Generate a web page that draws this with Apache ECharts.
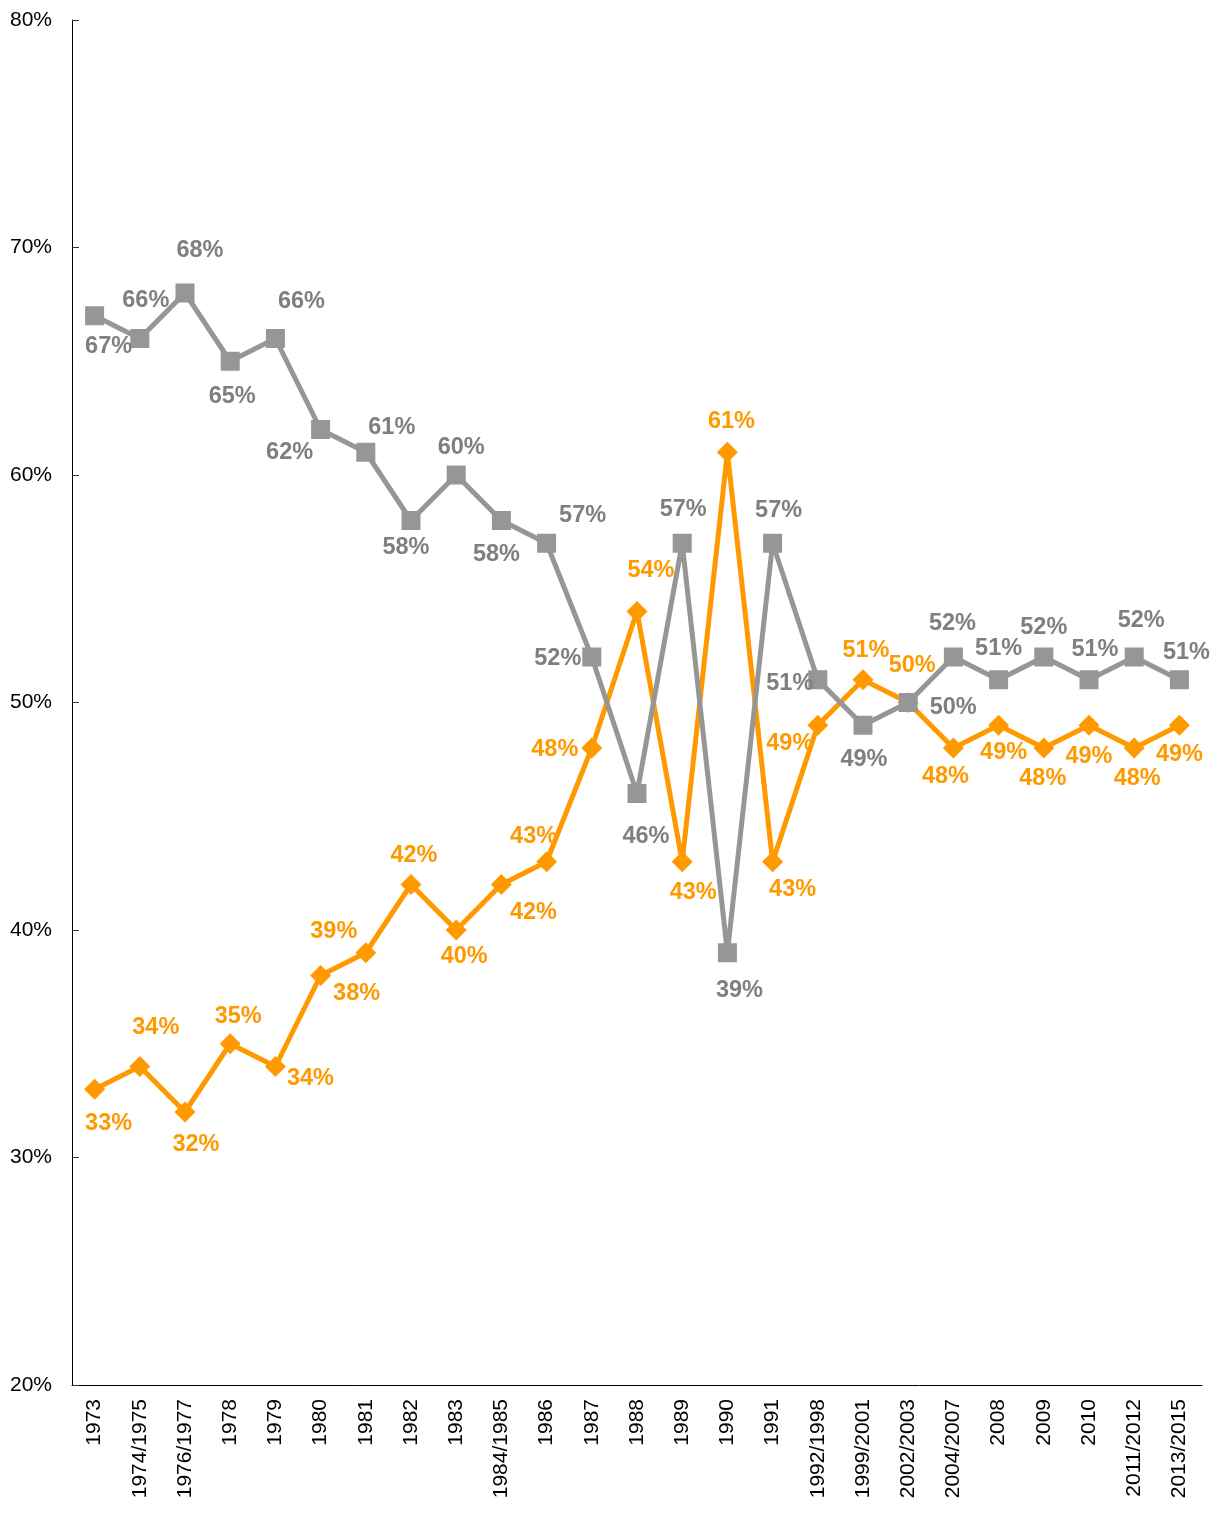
<!DOCTYPE html>
<html>
<head>
<meta charset="utf-8">
<title>Trend 1973–2015</title>
<script src="https://cdn.jsdelivr.net/npm/echarts@6/dist/echarts.min.js"></script>
<style>
  html, body { margin: 0; padding: 0; background: #fff; }
  #chart { width: 1219px; height: 1513px; }
</style>
</head>
<body>
<div id="chart"></div>
<script>
// Survey waves on the category axis
const categories = ['1973', '1974/1975', '1976/1977', '1978', '1979', '1980', '1981', '1982', '1983',
  '1984/1985', '1986', '1987', '1988', '1989', '1990', '1991', '1992/1998', '1999/2001',
  '2002/2003', '2004/2007', '2008', '2009', '2010', '2011/2012', '2013/2015'];

// Shares in percent
const grayValues = [67, 66, 68, 65, 66, 62, 61, 58, 60, 58, 57, 52, 46, 57, 39, 57, 51, 49, 50, 52, 51, 52, 51, 52, 51];
const orangeValues = [33, 34, 32, 35, 34, 38, 39, 42, 40, 42, 43, 48, 54, 43, 61, 43, 49, 51, 50, 48, 49, 48, 49, 48, 49];

// Value-axis ticks
const yTicks = [20, 30, 40, 50, 60, 70, 80];

// Label offsets (px) from each marker, so the labels do not collide
const grayLabelOffsets = [[14, 31], [6, -38], [15, -42], [2, 35], [26, -37], [-31, 23], [26, -25], [-5, 27],
  [5, -27], [-5, 34], [36, -28], [-34, 2], [9, 43], [1, -34], [12, 38], [6, -33], [-28, 4], [1, 34],
  [45, 5], [-1, -33], [0, -31], [0, -29], [6, -30], [7, -36], [7, -27]];
const orangeLabelOffsets = [[14, 34], [16, -39], [11, 33], [8, -27], [35, 12], [36, 18], [-32, -21], [3, -29],
  [8, 27], [32, 28], [-13, -25], [-37, 2], [14, -41], [11, 31], [4, -31], [20, 28], [-28, 18], [3, -29],
  [4, -37], [-8, 29], [5, 27], [-1, 31], [0, 31], [3, 31], [0, 29]];

const GRAY = '#969696';
const GRAY_TEXT = '#7f7f7f';
const ORANGE = '#ff9900';
const FONT = '"Liberation Sans", Arial, sans-serif';

function withLabels(values, offsets) {
  return values.map((v, i) => ({
    value: v,
    label: { offset: offsets[i] }
  }));
}

const chart = echarts.init(document.getElementById('chart'), null, { renderer: 'canvas' });

chart.setOption({
  animation: false,
  grid: { left: 72, right: 17, top: 20, bottom: 128, containLabel: false },
  xAxis: {
    type: 'category',
    data: categories,
    boundaryGap: true,
    axisLine: { lineStyle: { color: '#000', width: 1 } },
    axisTick: { inside: true, length: 7, lineStyle: { color: '#333' } },
    axisLabel: {
      rotate: 90,
      interval: 0,
      margin: 14,
      color: '#000',
      fontSize: 21,
      fontFamily: FONT
    },
    splitLine: { show: false }
  },
  yAxis: {
    type: 'value',
    min: yTicks[0],
    max: yTicks[yTicks.length - 1],
    interval: 10,
    axisLine: { show: true, lineStyle: { color: '#000', width: 1 } },
    axisTick: { show: true, inside: true, length: 7, lineStyle: { color: '#333' } },
    axisLabel: {
      margin: 20,
      color: '#000',
      fontSize: 21,
      fontFamily: FONT,
      formatter: v => v + '%'
    },
    splitLine: { show: false }
  },
  series: [
    {
      name: 'orange',
      type: 'line',
      data: withLabels(orangeValues, orangeLabelOffsets),
      symbol: 'diamond',
      symbolSize: 21,
      lineStyle: { color: ORANGE, width: 5 },
      itemStyle: { color: ORANGE },
      z: 2,
      label: {
        show: true,
        position: 'inside',
        color: ORANGE,
        fontSize: 23.5,
        fontWeight: 'bold',
        fontFamily: FONT,
        formatter: p => p.value + '%'
      }
    },
    {
      name: 'gray',
      type: 'line',
      data: withLabels(grayValues, grayLabelOffsets),
      symbol: 'rect',
      symbolSize: 19,
      lineStyle: { color: GRAY, width: 5 },
      itemStyle: { color: GRAY },
      z: 3,
      label: {
        show: true,
        position: 'inside',
        color: GRAY_TEXT,
        fontSize: 23.5,
        fontWeight: 'bold',
        fontFamily: FONT,
        formatter: p => p.value + '%'
      }
    }
  ]
});
</script>
</body>
</html>
